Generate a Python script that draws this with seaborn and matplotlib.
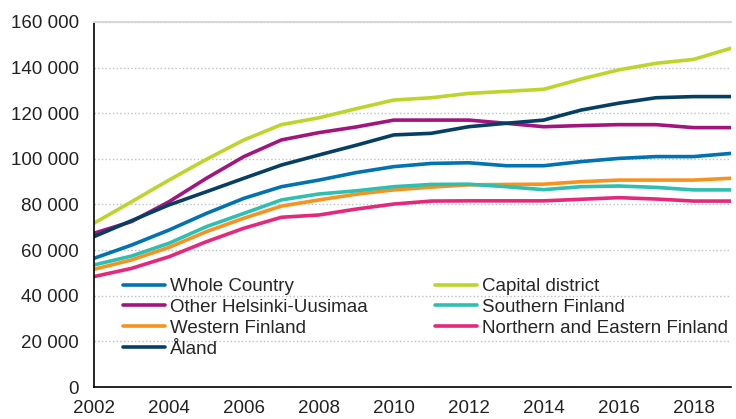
import numpy as np
import pandas as pd
import seaborn as sns
import matplotlib.pyplot as plt
from matplotlib.ticker import FuncFormatter

years = list(range(2002, 2020))

whole_country = [56400, 62200, 68800, 76100, 82700, 87800, 90700, 94000, 96600,
                 98000, 98300, 97000, 97000, 98800, 100200, 101000, 101000, 102400]
capital_district = [71800, 81200, 90700, 99800, 108300, 115000, 118000, 122000, 125800,
                    126800, 128700, 129600, 130500, 135000, 139000, 141900, 143600, 148500]
other_helsinki = [67400, 72500, 81200, 91500, 101000, 108300, 111500, 114000, 117000,
                  117000, 117000, 115600, 114100, 114600, 115000, 115000, 113700, 113700]
southern = [53500, 57400, 63000, 70300, 76100, 82000, 84600, 86000, 87800,
            88800, 88900, 87800, 86500, 87800, 88100, 87500, 86400, 86400]
western = [51600, 55700, 61200, 68100, 74000, 79300, 82000, 84500, 86400,
           87600, 88600, 88800, 88900, 90000, 90700, 90700, 90700, 91500]
northern_eastern = [48400, 52000, 57100, 63700, 69600, 74400, 75400, 78000, 80200,
                    81500, 81600, 81600, 81600, 82300, 83000, 82400, 81500, 81500]
aland = [65900, 72900, 79800, 85600, 91500, 97300, 101700, 106000, 110500,
         111200, 114100, 115600, 117000, 121400, 124400, 126800, 127300, 127300]

series = {
    'Whole Country': whole_country,
    'Other Helsinki-Uusimaa': other_helsinki,
    'Western Finland': western,
    'Åland': aland,
    'Capital district': capital_district,
    'Southern Finland': southern,
    'Northern and Eastern Finland': northern_eastern,
}
colors = {
    'Whole Country': '#0073b0',
    'Other Helsinki-Uusimaa': '#a2157f',
    'Western Finland': '#f7921e',
    'Åland': '#053f64',
    'Capital district': '#bdd52b',
    'Southern Finland': '#2ebfb0',
    'Northern and Eastern Finland': '#e5287c',
}
region_order = list(series.keys())

df = pd.concat([pd.DataFrame({'year': years, 'value': v, 'region': k})
                for k, v in series.items()])

sns.set_style('white')
plt.rcParams['font.family'] = ['Liberation Sans', 'DejaVu Sans']

fig = plt.figure(figsize=(7.36, 4.19), dpi=100)
ax = fig.add_axes([94 / 736, 32 / 419, 637 / 736, 365 / 419])

sns.lineplot(data=df, x='year', y='value', hue='region', hue_order=region_order,
             palette=colors, linewidth=2.6, legend=False, ax=ax)

ax.set_xlim(2002, 2019)
ax.set_ylim(0, 160000)
ax.set_xticks(range(2002, 2019, 2))
ax.set_yticks(range(0, 160001, 20000))
ax.yaxis.set_major_formatter(FuncFormatter(lambda v, p: f'{int(v):,}'.replace(',', ' ')))
ax.set_xlabel('')
ax.set_ylabel('')

ax.grid(axis='y', linestyle=':', color='#b8c0c8', linewidth=1)
ax.grid(axis='x', visible=False)
ax.spines['right'].set_visible(False)
ax.spines['top'].set_color('#d8d8d8')
ax.spines['top'].set_linewidth(1.5)
ax.spines['left'].set_color('black')
ax.spines['bottom'].set_color('black')
ax.spines['left'].set_linewidth(1.2)
ax.spines['bottom'].set_linewidth(1.2)

ax.tick_params(axis='x', direction='out', length=5, width=1, color='black',
               labelsize=13.5, pad=4, colors='#222222')
ax.tick_params(axis='y', length=0, labelsize=13.5, pad=11, colors='#222222')

handles = ax.get_lines()[:len(region_order)]
ax.legend(handles, region_order, ncol=2, frameon=False, fontsize=13.5,
          loc='upper left', bbox_to_anchor=(123 / 736, 1 - 278 / 419),
          bbox_transform=fig.transFigure, borderpad=0, borderaxespad=0,
          handlelength=2.25, handletextpad=0.25, labelspacing=0.2,
          columnspacing=3.6)

fig.savefig('out.png', dpi=100)
